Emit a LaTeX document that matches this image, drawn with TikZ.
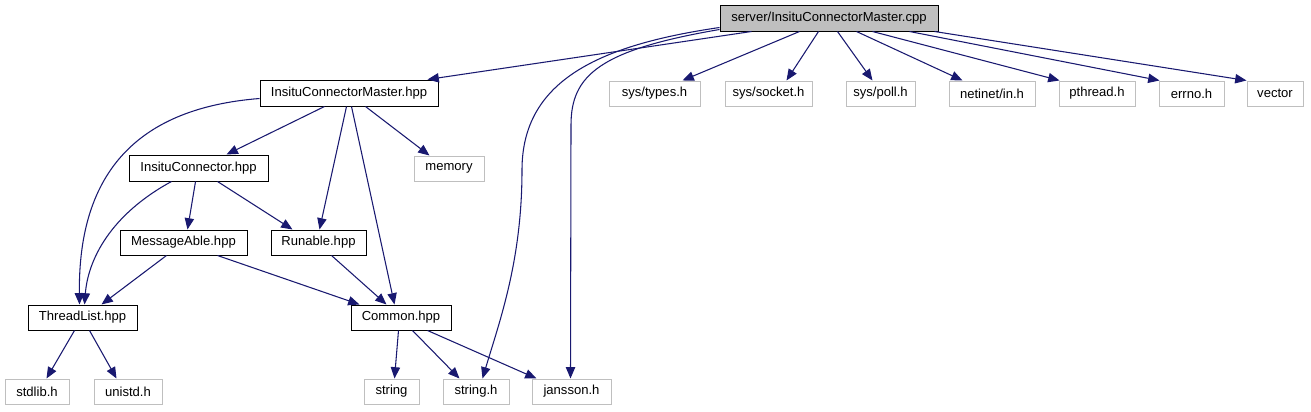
\documentclass[tikz,border=0pt]{standalone}
\usepackage{fontspec}
\setmainfont{Liberation Sans}
\usetikzlibrary{arrows.meta,calc}
\definecolor{edgec}{HTML}{191970}
\definecolor{grayb}{HTML}{BFBFBF}
\newcommand{\bx}[7]{\node[#7, minimum width={(#4-#2)*0.75pt}, minimum height={(#5-#3)*0.75pt}] (#1) at ({(#2+#4)/2},{(#3+#5)/2}) {#6};}
\newcommand{\E}[4]{\draw[edge] ($(#1.south west)+(#2,0)$) -- ($(#3.north west)+(#4,0)$);}
\begin{document}
\begin{tikzpicture}[x=0.75pt,y=-0.75pt,
 base/.style={draw, line width=0.75pt, inner sep=0pt, font=\fontsize{9.8}{11}\selectfont},
 inner/.style={base, draw=black},
 ext/.style={base, draw=grayb},
 root/.style={base, draw=black, fill=grayb},
 edge/.style={draw=edgec, line width=0.8pt, -{Triangle[length=8.5pt,width=7pt]}}
]
\useasboundingbox (0,0) rectangle (1311,411);
\bx{cpp}{720}{5}{938}{31}{server/InsituConnectorMaster.cpp}{root}
\bx{types}{609}{81}{700}{106}{sys/types.h}{ext}
\bx{socket}{725}{81}{812}{106}{sys/socket.h}{ext}
\bx{poll}{846}{81}{915}{106}{sys/poll.h}{ext}
\bx{netinet}{949}{81}{1035}{106}{netinet/in.h}{ext}
\bx{pthread}{1059}{81}{1135}{106}{pthread.h}{ext}
\bx{errno}{1159}{81}{1224}{106}{errno.h}{ext}
\bx{vector}{1247}{81}{1303}{106}{vector}{ext}
\bx{icm}{260}{80}{438}{106}{InsituConnectorMaster.hpp}{inner}
\bx{ic}{129}{155}{268}{181}{InsituConnector.hpp}{inner}
\bx{memory}{414}{156}{484}{181}{memory}{ext}
\bx{msg}{120}{230}{247}{255}{MessageAble.hpp}{inner}
\bx{run}{271}{230}{366}{255}{Runable.hpp}{inner}
\bx{tl}{28}{305}{137}{330}{ThreadList.hpp}{inner}
\bx{common}{351}{305}{451}{330}{Common.hpp}{inner}
\bx{stdlib}{5}{379}{69}{404}{stdlib.h}{ext}
\bx{unistd}{94}{379}{162}{404}{unistd.h}{ext}
\bx{string}{364}{379}{419}{404}{string}{ext}
\bx{stringh}{443}{379}{509}{404}{string.h}{ext}
\bx{jansson}{532}{379}{611}{404}{jansson.h}{ext}
% edges from cpp
\E{cpp}{32}{icm}{168}
\E{cpp}{80}{types}{74}
\E{cpp}{99}{socket}{62}
\E{cpp}{118}{poll}{27}
\E{cpp}{137}{netinet}{14}
\E{cpp}{153}{pthread}{1}
\E{cpp}{190}{errno}{1}
\E{cpp}{215}{vector}{0}
\draw[edge] ($(cpp.south west)+(0,-4)$) .. controls (600,45) and (522,80) .. (522,170) .. controls (522,260) and (500,320) .. ($(stringh.north west)+(40,0)$);
\draw[edge] ($(cpp.south west)+(0,-2)$) .. controls (600,50) and (571,75) .. (571,125) -- ($(jansson.north west)+(39,0)$);
% icm
\draw[edge] ($(icm.south west)+(0,-8)$) .. controls (140,108) and (78,170) .. ($(tl.north west)+(52,0)$);
\E{icm}{65}{ic}{98}
\E{icm}{87}{run}{49}
\E{icm}{92}{common}{44}
\E{icm}{106}{memory}{16}
% ic
\draw[edge] ($(ic.south west)+(43,0)$) .. controls (110,215) and (88,260) .. ($(tl.north west)+(57,0)$);
\E{ic}{67}{msg}{68}
\E{ic}{89}{run}{22}
% msg, run
\E{msg}{47}{tl}{74}
\E{msg}{98}{common}{9}
\E{run}{61}{common}{36}
% tl
\E{tl}{47}{stdlib}{42}
\E{tl}{62}{unistd}{23}
% common
\E{common}{48}{string}{31}
\E{common}{62}{stringh}{17}
\E{common}{77}{jansson}{5}
\end{tikzpicture}
\end{document}
